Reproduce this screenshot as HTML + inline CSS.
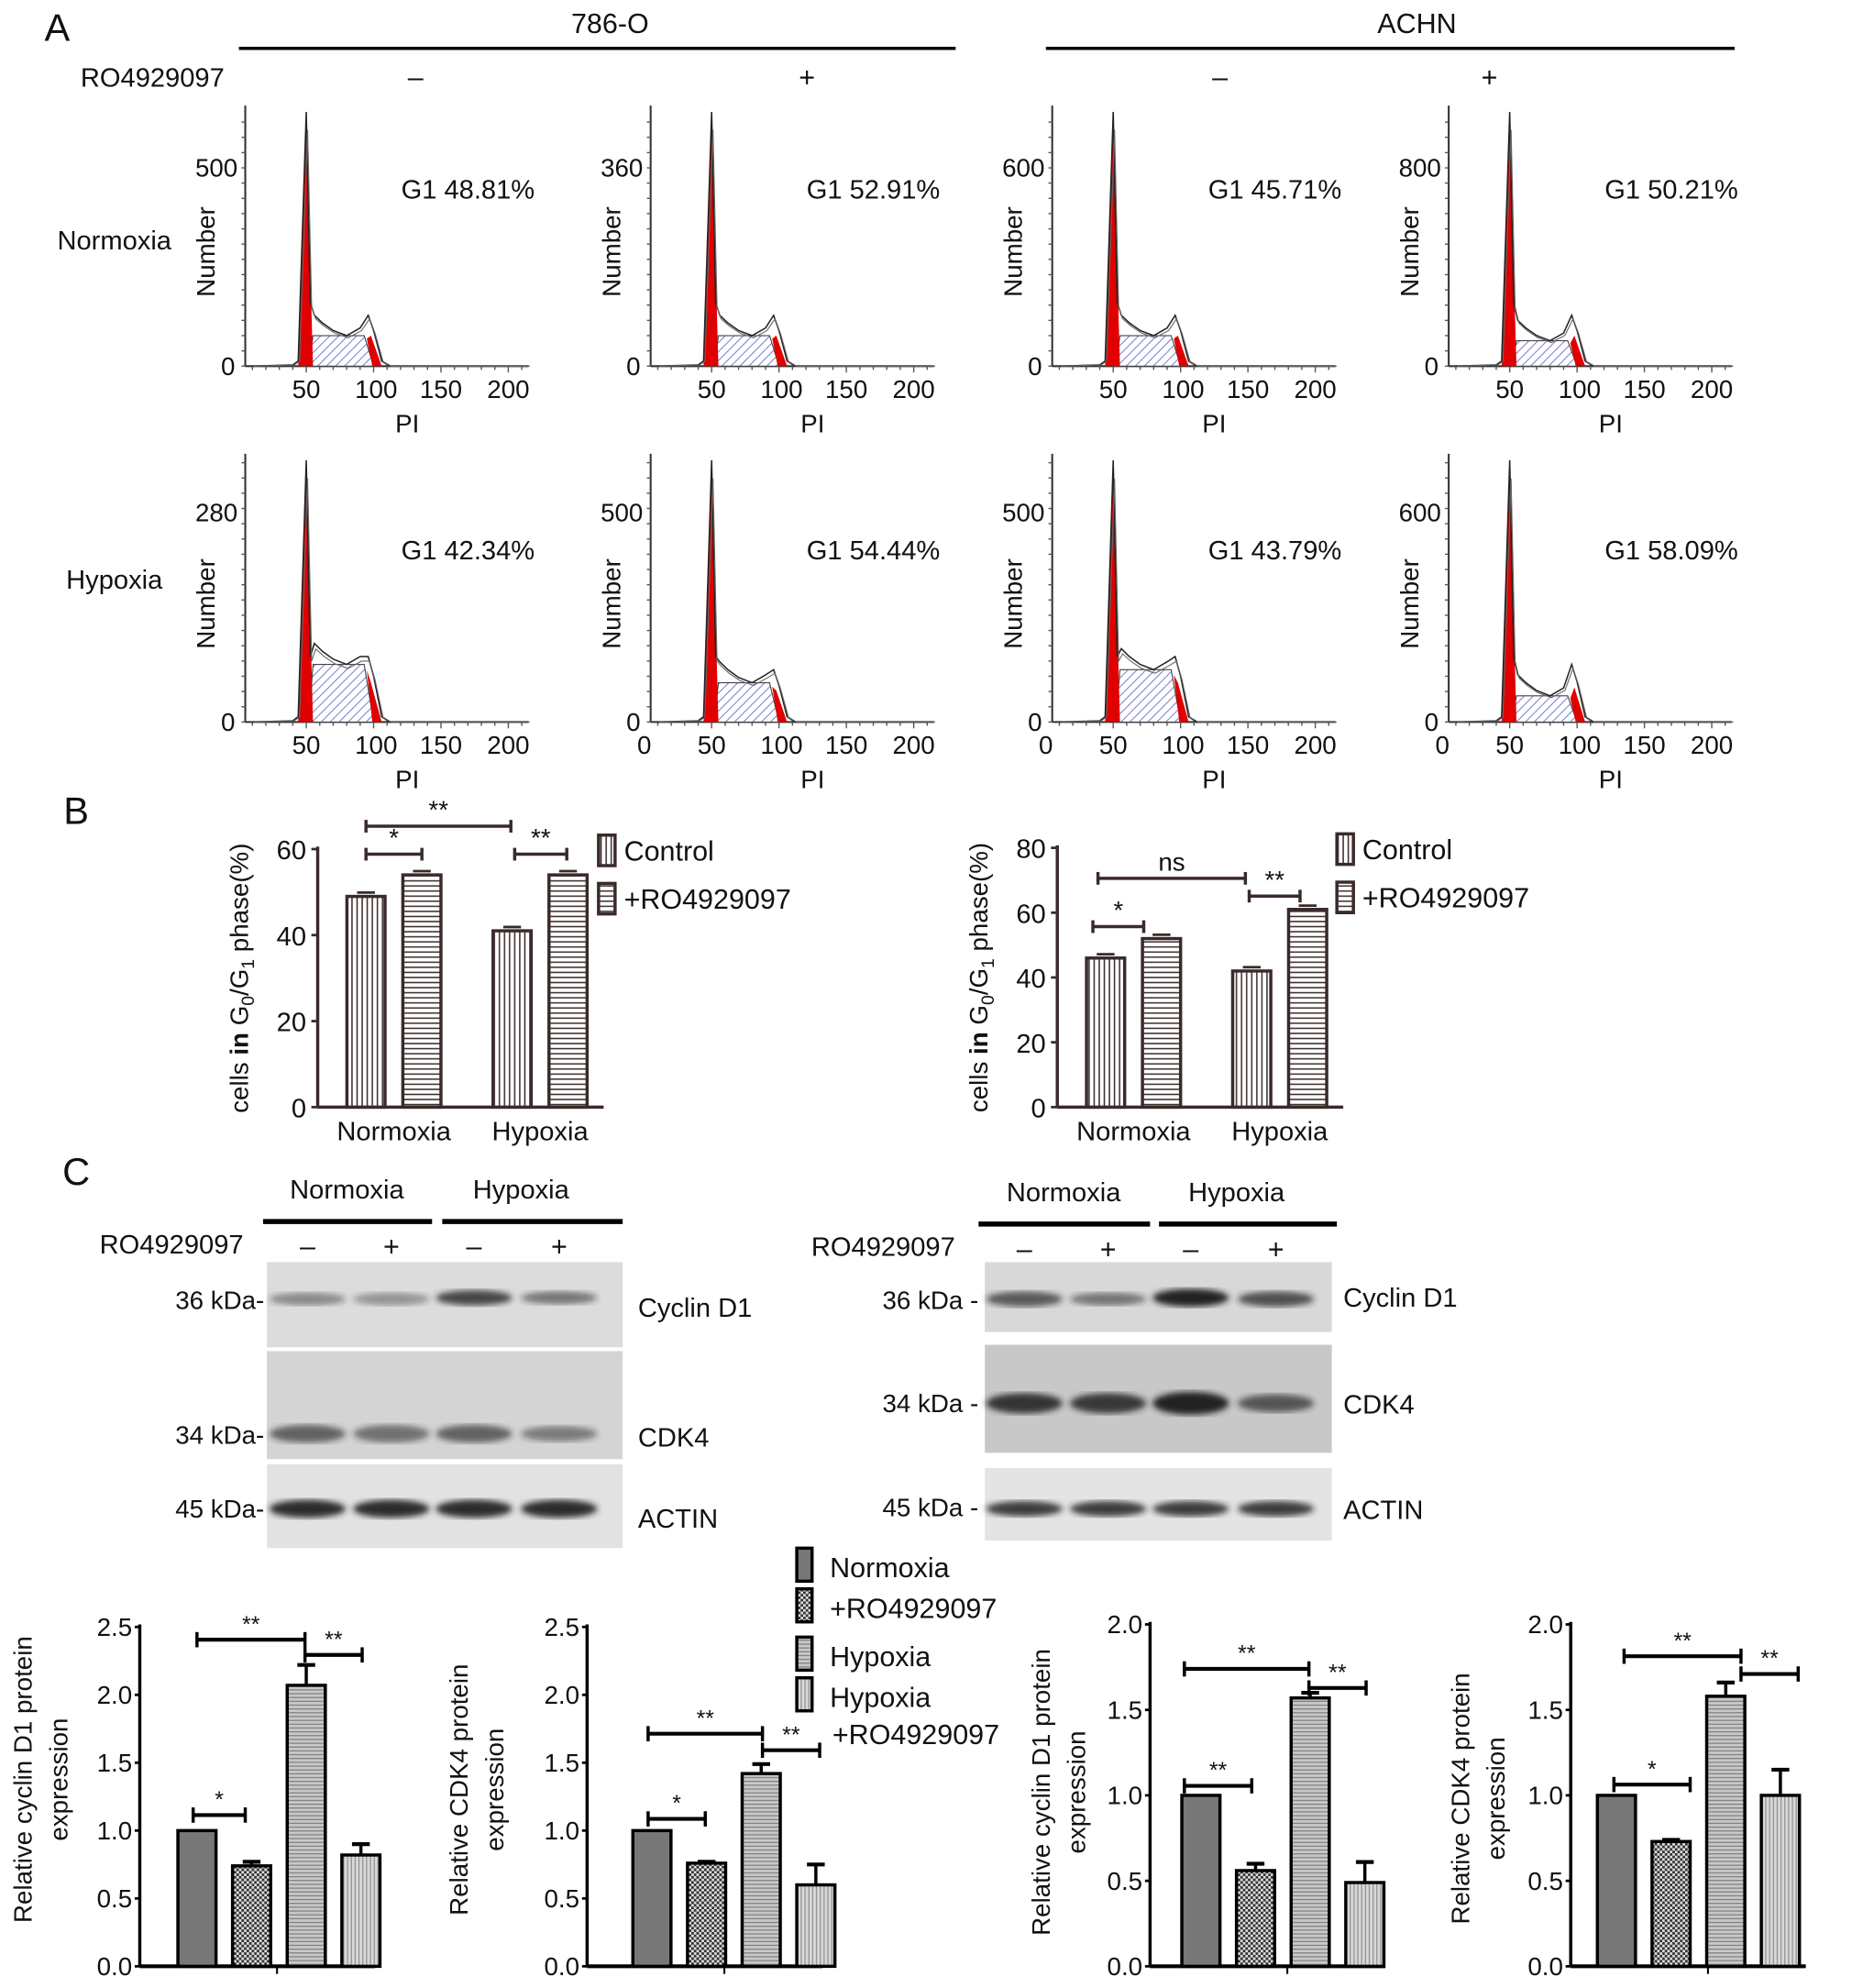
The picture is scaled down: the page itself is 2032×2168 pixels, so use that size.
<!DOCTYPE html>
<html><head><meta charset="utf-8">
<style>
html,body{margin:0;padding:0;background:#fff;}
svg{display:block;font-family:"Liberation Sans",Arial,sans-serif;}
</style></head>
<body>
<svg id="fig" width="2032" height="2168" viewBox="0 0 1466 1564" xmlns="http://www.w3.org/2000/svg">
<defs>
<pattern id="hatchBlue" patternUnits="userSpaceOnUse" width="5" height="5" patternTransform="rotate(45)"><rect width="5" height="5" fill="#fff"/><line x1="0" y1="0" x2="0" y2="5" stroke="#5a62c8" stroke-width="1.2"/></pattern>
<pattern id="vStripe" patternUnits="userSpaceOnUse" width="4" height="4"><rect width="4" height="4" fill="#fff"/><line x1="1" y1="0" x2="1" y2="4" stroke="#3a2a2a" stroke-width="1.1"/></pattern>
<pattern id="hStripe" patternUnits="userSpaceOnUse" width="4" height="4"><rect width="4" height="4" fill="#fff"/><line x1="0" y1="1" x2="4" y2="1" stroke="#3a2a2a" stroke-width="1.1"/></pattern>
<pattern id="check" patternUnits="userSpaceOnUse" width="4" height="4"><rect width="4" height="4" fill="#ddd"/><rect width="2" height="2" fill="#333"/><rect x="2" y="2" width="2" height="2" fill="#333"/></pattern>
<pattern id="hStripeG" patternUnits="userSpaceOnUse" width="3" height="3"><rect width="3" height="3" fill="#c8c8c8"/><line x1="0" y1="0.5" x2="3" y2="0.5" stroke="#777" stroke-width="0.8"/></pattern>
<pattern id="vStripeG" patternUnits="userSpaceOnUse" width="3" height="3"><rect width="3" height="3" fill="#d8d8d8"/><line x1="0.5" y1="0" x2="0.5" y2="3" stroke="#888" stroke-width="0.8"/></pattern>
<filter id="blur"><feGaussianBlur stdDeviation="2.5"/></filter>
</defs>
<g id="root"></g>
</svg>
<script>
// ---------- data ----------
// Panel A histograms
const histG1Labels = ["G1 48.81%","G1 52.91%","G1 45.71%","G1 50.21%","G1 42.34%","G1 54.44%","G1 43.79%","G1 58.09%"];
const histYTick = ["500","360","600","800","280","500","500","600"];
const histG2Height = [0.2,0.2,0.2,0.2,0.25,0.2,0.25,0.22];
const histSHeight = [0.12,0.12,0.12,0.1,0.22,0.15,0.2,0.1];
// Panel B
const bCategories = ["Normoxia","Hypoxia"];
const bControl786 = [49,41];
const bRO786 = [54,54];
const bControlACHN = [46,42];
const bROACHN = [52,61];
const bTicks786 = [0,20,40,60];
const bTicksACHN = [0,20,40,60,80];
// Panel C bar charts
const cCyclin786 = [1.0,0.74,2.07,0.82];
const cCyclin786Err = [0,0.03,0.15,0.08];
const cCDK4786 = [1.0,0.76,1.42,0.60];
const cCDK4786Err = [0,0.01,0.07,0.15];
const cCyclinACHN = [1.0,0.56,1.57,0.49];
const cCyclinACHNErr = [0,0.04,0.03,0.12];
const cCDK4ACHN = [1.0,0.73,1.58,1.0];
const cCDK4ACHNErr = [0,0.01,0.08,0.15];
const cTicks25 = [0,0.5,1.0,1.5,2.0,2.5];
const cTicks20 = [0,0.5,1.0,1.5,2.0];

const NS="http://www.w3.org/2000/svg";
const root=document.getElementById('root');
function mk(tag,attrs,parent,text){const e=document.createElementNS(NS,tag);for(const k in attrs)e.setAttribute(k,attrs[k]);if(text!==undefined)e.textContent=text;(parent||root).appendChild(e);return e;}
function txt(x,y,s,size,name,anchor,extra){const t=mk('text',Object.assign({x:x,y:y,'font-size':size,'text-anchor':anchor||'middle',fill:'#111'},extra||{}),root,s);


return t;}

// ---------- Panel A header ----------
txt(45,32,"A",30,"panel-label-a","middle");
txt(480,26,"786-O",22,"cell-line-786o");
txt(1115,26,"ACHN",22,"cell-line-achn");
mk('line',{x1:188,y1:38,x2:752,y2:38,stroke:'#000','stroke-width':2.5});
mk('line',{x1:823,y1:38,x2:1365,y2:38,stroke:'#000','stroke-width':2.5});
txt(120,68,"RO4929097",21,"ro-label-a");
[[327,"–"],[635,"+"],[960,"–"],[1172,"+"]].forEach((p,i)=>txt(p[0],68,p[1],22,"ro-sign-"+i));
txt(90,196,"Normoxia",21,"row-label-normoxia");
txt(90,463,"Hypoxia",21,"row-label-hypoxia");

// ---------- histograms ----------
const colAxis=[193,512,828,1140];
const rows=[{base:288,top:88},{base:568,top:362}];
function hist(idx){
  const c=idx%4, r=Math.floor(idx/4);
  const ax=colAxis[c], base=rows[r].base, top=rows[r].top, H=base-top;
  const g=mk('g',{});
  
  
  const px=v=>ax-5+1.06*v;
  const py=f=>base-f*H;
  // axes
  mk('line',{x1:ax,y1:top-5,x2:ax,y2:base,stroke:'#333','stroke-width':1.5},g);
  mk('line',{x1:ax,y1:base,x2:px(215),y2:base,stroke:'#333','stroke-width':1.5},g);
  for(let y=base;y>top;y-=12)mk('line',{x1:ax-3,y1:y,x2:ax,y2:y,stroke:'#555','stroke-width':1},g);
  for(let v=10;v<=210;v+=10)mk('line',{x1:px(v),y1:base,x2:px(v),y2:base+(v%50==0?5:3),stroke:'#555','stroke-width':1},g);
  // S phase
  const s=histSHeight[idx], g2=histG2Height[idx];
  mk('polygon',{points:`${px(52)},${base} ${px(55)},${py(s)} ${px(93)},${py(s)} ${px(100)},${base}`,fill:'url(#hatchBlue)',stroke:'#444','stroke-width':0.8},g);
  // G1 red
  mk('polygon',{points:`${px(44)},${base} ${px(50)},${py(0.96)} ${px(55)},${base}`,fill:'#e00000'},g);
  // G2 red
  mk('polygon',{points:`${px(95)},${py(s*0.9)} ${px(98)},${py(g2*0.6)} ${px(106)},${base} ${px(99)},${base}`,fill:'#e00000'},g);
  // outline
  const pts=[[10,0],[40,0.005],[44,0.02],[50,1.0],[53,0.25],[56,s+0.08],[62,s+0.05],[70,s+0.02],[80,s],[90,s+0.03],[96,g2],[100,g2*0.7],[106,0.02],[112,0],[215,0]];
  mk('polyline',{points:pts.map(p=>px(p[0])+','+py(p[1])).join(' '),fill:'none',stroke:'#222','stroke-width':1.1},g);
  const pts2=pts.map(p=>[p[0]+1,p[1]*0.93]);
  mk('polyline',{points:pts2.map(p=>px(p[0])+','+py(p[1])).join(' '),fill:'none',stroke:'#666','stroke-width':0.8},g);
  // labels
  const yt=mk('text',{x:ax-6,y:py(r==0?0.78:0.8)+7,'font-size':20,'text-anchor':'end',fill:'#111'},g,histYTick[idx]);
  mk('text',{x:ax-8,y:base+7,'font-size':20,'text-anchor':'end',fill:'#111'},g,"0");
  const tl=r==0?[50,100,150,200]:[50,100,150,200];
  if(r==1&&c>0)mk('text',{x:px(0),y:base+25,'font-size':20,'text-anchor':'middle',fill:'#111'},g,"0");
  tl.forEach(v=>mk('text',{x:px(v)+(v==100?2:0),y:base+25,'font-size':20,'text-anchor':'middle',fill:'#111'},g,String(v)));
  mk('text',{x:px(125),y:base+52,'font-size':20,'text-anchor':'middle',fill:'#111'},g,"PI");
  mk('text',{x:0,y:0,'font-size':20,'text-anchor':'middle',fill:'#111',transform:`translate(${ax-24},${(base+top)/2+10}) rotate(-90)`},g,"Number");
  mk('text',{x:px(170),y:r==0?(top+68):(top+78),'font-size':21,'text-anchor':'middle',fill:'#111'},g,histG1Labels[idx]);
}
for(let i=0;i<8;i++)hist(i);

// ---------- Panel B ----------
txt(60,648,"B",30,"panel-label-b");
function barB(opt){
  const g=mk('g',{});
  
  
  const y=v=>opt.base-(v/opt.max)*(opt.base-opt.topY);
  opt.ticks.forEach(t=>{mk('line',{x1:opt.ax-5,y1:y(t),x2:opt.ax,y2:y(t),stroke:'#3a2a2a','stroke-width':2},g);
    mk('text',{x:opt.ax-9,y:y(t)+8,'font-size':21,'text-anchor':'end',fill:'#111'},g,String(t));});
  mk('line',{x1:opt.ax,y1:y(opt.max)-2,x2:opt.ax,y2:opt.base,stroke:'#3a2a2a','stroke-width':2.5},g);
  mk('line',{x1:opt.ax,y1:opt.base,x2:opt.ax+225,y2:opt.base,stroke:'#3a2a2a','stroke-width':2.5},g);
  bCategories.forEach((cat,i)=>{
    const gx=opt.ax+23+i*115;
    [[opt.ctrl[i],'url(#vStripe)'],[opt.ro[i],'url(#hStripe)']].forEach((d,j)=>{
      const x=gx+j*44;
      const r=mk('rect',{x:x,y:y(d[0]),width:30,height:opt.base-y(d[0]),fill:d[1],stroke:'#3a2a2a','stroke-width':2.5},g);
      
      
      mk('line',{x1:x+8,y1:y(d[0])-3,x2:x+22,y2:y(d[0])-3,stroke:'#3a2a2a','stroke-width':2},g);
    });
    mk('text',{x:gx+37,y:opt.base+26,'font-size':21,'text-anchor':'middle',fill:'#111'},g,cat);
  });
  const yl=mk('text',{x:0,y:0,'font-size':20,'text-anchor':'middle',fill:'#111',transform:`translate(${opt.ax-55},${(opt.base+opt.topY)/2}) rotate(-90)`},g);
  yl.innerHTML='cells <tspan font-weight="bold">in</tspan> G<tspan font-size="14" dy="5">0</tspan><tspan dy="-5">/G</tspan><tspan font-size="14" dy="5">1</tspan><tspan dy="-5"> phase(%)</tspan>';
  opt.sig.forEach(s=>{mk('line',{x1:s[0],y1:s[2],x2:s[1],y2:s[2],stroke:'#3a2a2a','stroke-width':2.5},g);
    mk('line',{x1:s[0],y1:s[2]-5,x2:s[0],y2:s[2]+5,stroke:'#3a2a2a','stroke-width':2.5},g);
    mk('line',{x1:s[1],y1:s[2]-5,x2:s[1],y2:s[2]+5,stroke:'#3a2a2a','stroke-width':2.5},g);
    mk('text',{x:(s[0]+s[1])/2,y:s[2]-6,'font-size':s[3]=='ns'?20:20,'text-anchor':'middle',fill:'#111'},g,s[3]);});
  [[ 'url(#vStripe)','Control'],['url(#hStripe)','+RO4929097']].forEach((l,i)=>{
    const ly=opt.legY+i*38;
    mk('rect',{x:opt.legX,y:ly-11,width:13,height:24,fill:l[0],stroke:'#3a2a2a','stroke-width':2.5},g);
    mk('text',{x:opt.legX+20,y:ly+9,'font-size':22,'text-anchor':'start',fill:'#111'},g,l[1]);
  });
}
barB({name:'bar-chart-786o-g1',ax:250,base:871,topY:668,max:60,ticks:bTicks786,ctrl:bControl786,ro:bRO786,
  sig:[[288,402,650,'**'],[288,332,672,'*'],[405,446,672,'**']],legX:471,legY:668});
barB({name:'bar-chart-achn-g1',ax:832,base:871,topY:667,max:80,ticks:bTicksACHN,ctrl:bControlACHN,ro:bROACHN,
  sig:[[864,980,691,'ns'],[860,900,729,'*'],[983,1023,705,'**']],legX:1052,legY:667});

// ---------- Panel C blots ----------
txt(60,932,"C",30,"panel-label-c");
function blot(o){
  const g=mk('g',{});
  
  
  mk('text',{x:o.n1,y:o.hy,'font-size':21,'text-anchor':'middle',fill:'#111'},g,"Normoxia");
  mk('text',{x:o.n2,y:o.hy,'font-size':21,'text-anchor':'middle',fill:'#111'},g,"Hypoxia");
  mk('line',{x1:o.l1[0],y1:o.hy+18,x2:o.l1[1],y2:o.hy+18,stroke:'#000','stroke-width':4},g);
  mk('line',{x1:o.l2[0],y1:o.hy+18,x2:o.l2[1],y2:o.hy+18,stroke:'#000','stroke-width':4},g);
  mk('text',{x:o.roX,y:o.hy+43,'font-size':21,'text-anchor':'middle',fill:'#111'},g,"RO4929097");
  o.lanes.forEach((x,i)=>mk('text',{x:x,y:o.hy+45,'font-size':22,'text-anchor':'middle',fill:'#111'},g,i%2?'+':'–'));
  o.strips.forEach((s,si)=>{
    mk('rect',{x:o.bx[0],y:s.y0,width:o.bx[1]-o.bx[0],height:s.y1-s.y0,fill:s.bg},g);
    s.bands.forEach((b,bi)=>{
      mk('ellipse',{cx:o.lanes[bi],cy:b[0],rx:30,ry:b[2],fill:'#222','fill-opacity':b[1],filter:'url(#blur)'},g);
    });
    mk('text',{x:o.kx,y:s.ky,'font-size':20,'text-anchor':'end',fill:'#111'},g,s.k);
    mk('text',{x:o.nx,y:s.ny,'font-size':21,'text-anchor':'start',fill:'#111'},g,s.n);
  });
}
blot({name:'western-blot-786o',n1:273,n2:410,hy:943,l1:[207,340],l2:[348,490],roX:135,lanes:[242,308,373,440],bx:[210,490],kx:208,nx:502,
  strips:[{y0:993,y1:1060,bg:'#dcdcdc',k:'36 kDa-',ky:1030,n:'Cyclin D1',ny:1036,bands:[[1022,0.45,5],[1022,0.4,5],[1021,0.8,6],[1021,0.55,5]]},
          {y0:1063,y1:1148,bg:'#d4d4d4',k:'34 kDa-',ky:1136,n:'CDK4',ny:1138,bands:[[1128,0.65,7],[1128,0.55,7],[1128,0.65,7],[1128,0.5,6]]},
          {y0:1152,y1:1218,bg:'#e2e2e2',k:'45 kDa-',ky:1194,n:'ACTIN',ny:1202,bands:[[1187,0.95,7],[1187,0.95,7],[1187,0.95,7],[1187,0.95,7]]}]});
blot({name:'western-blot-achn',n1:837,n2:973,hy:945,l1:[770,905],l2:[912,1052],roX:695,lanes:[806,872,937,1004],bx:[775,1048],kx:770,nx:1057,
  strips:[{y0:993,y1:1048,bg:'#d8d8d8',k:'36 kDa -',ky:1030,n:'Cyclin D1',ny:1028,bands:[[1022,0.7,6],[1022,0.55,5],[1021,1,7],[1022,0.75,6]]},
          {y0:1058,y1:1143,bg:'#c8c8c8',k:'34 kDa -',ky:1111,n:'CDK4',ny:1112,bands:[[1104,0.9,8],[1104,0.85,8],[1104,1,9],[1104,0.7,7]]},
          {y0:1155,y1:1212,bg:'#e4e4e4',k:'45 kDa -',ky:1193,n:'ACTIN',ny:1195,bands:[[1187,0.85,6],[1187,0.85,6],[1187,0.85,6],[1187,0.85,6]]}]});

// ---------- Panel C bar charts ----------
const fills=['#777','url(#check)','url(#hStripeG)','url(#vStripeG)'];
const groupNames=['normoxia','ro4929097','hypoxia','hypoxia-ro4929097'];
function barC(o){
  const g=mk('g',{});
  
  
  const y=v=>o.base-(v/o.max)*(o.base-o.topY);
  mk('line',{x1:o.ax,y1:y(o.max)-2,x2:o.ax,y2:o.base,stroke:'#000','stroke-width':2.5},g);
  mk('line',{x1:o.ax,y1:o.base,x2:o.ax+185,y2:o.base,stroke:'#000','stroke-width':3},g);
  mk('line',{x1:o.ax+108,y1:o.base,x2:o.ax+108,y2:o.base+6,stroke:'#000','stroke-width':1.5},g);
  o.ticks.forEach(t=>{mk('line',{x1:o.ax-4,y1:y(t),x2:o.ax,y2:y(t),stroke:'#000','stroke-width':2},g);
    mk('text',{x:o.ax-6,y:y(t)+7,'font-size':20,'text-anchor':'end',fill:'#111'},g,t.toFixed(1));});
  o.vals.forEach((v,i)=>{
    const x=o.ax+o.off+i*o.step;
    const e=o.err[i];
    if(e>0){mk('line',{x1:x+15,y1:y(v),x2:x+15,y2:y(v+e),stroke:'#000','stroke-width':2.5},g);
      mk('line',{x1:x+8,y1:y(v+e),x2:x+22,y2:y(v+e),stroke:'#000','stroke-width':3},g);}
    const r=mk('rect',{x:x,y:y(v),width:30,height:o.base-y(v),fill:fills[i],stroke:'#000','stroke-width':2.5},g);
    
    
  });
  o.sig.forEach(s=>{mk('line',{x1:s[0],y1:s[2],x2:s[1],y2:s[2],stroke:'#000','stroke-width':3},g);
    mk('line',{x1:s[0],y1:s[2]-6,x2:s[0],y2:s[2]+6,stroke:'#000','stroke-width':2.5},g);
    mk('line',{x1:s[1],y1:s[2]-6,x2:s[1],y2:s[2]+6,stroke:'#000','stroke-width':2.5},g);
    mk('text',{x:(s[0]+s[1])/2,y:s[2]-6,'font-size':18,'text-anchor':'middle',fill:'#111'},g,s[3]);});
  mk('text',{x:0,y:0,'font-size':20,'text-anchor':'middle',fill:'#111',transform:`translate(${o.lx},${o.ly}) rotate(-90)`},g,o.l1);
  mk('text',{x:0,y:0,'font-size':20,'text-anchor':'middle',fill:'#111',transform:`translate(${o.lx+28},${o.ly}) rotate(-90)`},g,'expression');
}
barC({name:'bar-chart-786o-cyclin-d1',ax:110,base:1547,topY:1280,max:2.5,ticks:cTicks25,vals:cCyclin786,err:cCyclin786Err,off:30,step:43,
  sig:[[152,193,1428,'*'],[155,240,1290,'**'],[240,285,1302,'**']],lx:25,ly:1400,l1:'Relative cyclin D1 protein'});
barC({name:'bar-chart-786o-cdk4',ax:462,base:1547,topY:1280,max:2.5,ticks:cTicks25,vals:cCDK4786,err:cCDK4786Err,off:36,step:43,
  sig:[[510,555,1431,'*'],[510,600,1364,'**'],[600,645,1377,'**']],lx:368,ly:1408,l1:'Relative CDK4 protein'});
barC({name:'bar-chart-achn-cyclin-d1',ax:905,base:1547,topY:1278,max:2.0,ticks:cTicks20,vals:cCyclinACHN,err:cCyclinACHNErr,off:25,step:43,
  sig:[[932,985,1405,'**'],[932,1030,1313,'**'],[1030,1075,1328,'**']],lx:826,ly:1410,l1:'Relative cyclin D1 protein'});
barC({name:'bar-chart-achn-cdk4',ax:1236,base:1547,topY:1278,max:2.0,ticks:cTicks20,vals:cCDK4ACHN,err:cCDK4ACHNErr,off:21,step:43,
  sig:[[1270,1330,1404,'*'],[1278,1370,1303,'**'],[1370,1415,1317,'**']],lx:1156,ly:1415,l1:'Relative CDK4 protein'});

// legend
const legTexts=['Normoxia','+RO4929097','Hypoxia','Hypoxia'];
const legY=[1234,1266,1304,1336];
legTexts.forEach((t,i)=>{
  const r=mk('rect',{x:627,y:legY[i]-16,width:12,height:26,fill:fills[i],stroke:'#000','stroke-width':2.5});
  
  
  txt(653,legY[i]+7,t,22,'legend-entry-'+groupNames[i],'start');
});
txt(655,1372,'+RO4929097',22,'legend-entry-hypoxia-ro-line2','start');
</script>
</body></html>
